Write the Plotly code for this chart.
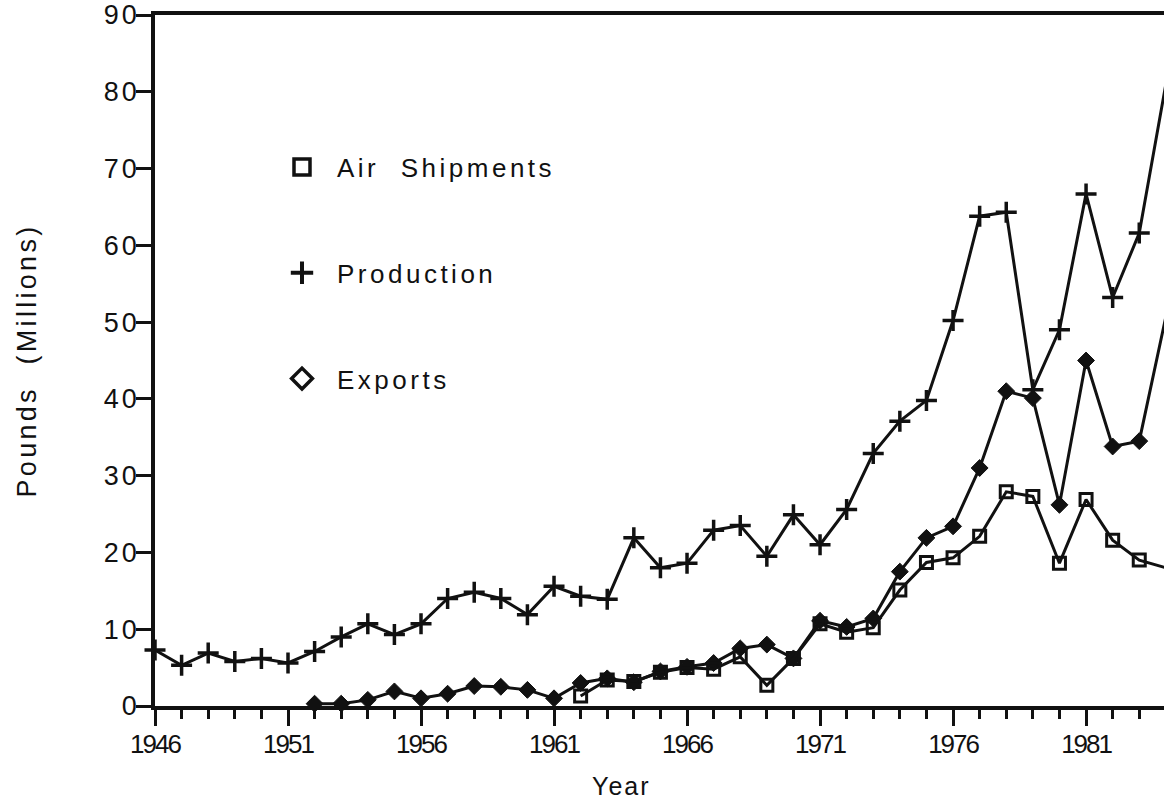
import plotly.graph_objects as go

years = list(range(1946, 1985))

production = [7.3, 5.3, 6.9, 5.8, 6.2, 5.6, 7.1, 9.0, 10.7, 9.3,
              10.7, 14.0, 14.8, 14.0, 11.9, 15.6, 14.3, 13.9, 21.9, 18.0,
              18.6, 22.9, 23.5, 19.5, 24.9, 21.0, 25.6, 32.9, 37.1, 39.8,
              50.2, 63.8, 64.3, 41.2, 49.0, 66.7, 53.2, 61.6, 81.0]

exports = [None, None, None, None, None, None, 0.3, 0.3, 0.8, 1.9,
           1.0, 1.6, 2.6, 2.5, 2.1, 1.0, 3.0, 3.6, 3.1, 4.5,
           5.1, 5.6, 7.5, 8.0, 6.2, 11.1, 10.3, 11.4, 17.5, 21.9,
           23.4, 31.0, 41.0, 40.1, 26.2, 45.0, 33.8, 34.5, 50.7]

air_shipments = [None] * 16 + [1.3, 3.4, 3.2, 4.4,
                 5.0, 4.8, 6.4, 2.7, 6.2, 10.7, 9.6, 10.2, 15.1, 18.7,
                 19.3, 22.1, 27.9, 27.3, 18.6, 26.9, 21.6, 19.0, 18.0]

x_tick_vals = [1946, 1951, 1956, 1961, 1966, 1971, 1976, 1981]
x_tick_text = [str(v) for v in x_tick_vals]
y_tick_vals = list(range(0, 100, 10))
y_tick_text = [str(v) for v in y_tick_vals]

series_names = ["Air\u00a0\u00a0Shipments", "Production", "Exports"]

BLACK = "#111111"
SANS = "Liberation Sans, Arial, Helvetica, sans-serif"

W, H = 1164, 799
PLOT_L, PLOT_T, PLOT_B = 155, 15, 706   # plot-area edges in pixels

fig = go.Figure()

fig.add_trace(go.Scatter(
    x=years, y=production, mode="lines+markers", showlegend=False,
    line=dict(color=BLACK, width=3), cliponaxis=False,
    marker=dict(symbol="cross-thin", size=15, color=BLACK,
                line=dict(color=BLACK, width=3.5)),
))
fig.add_trace(go.Scatter(
    x=years, y=exports, mode="lines+markers", showlegend=False,
    line=dict(color=BLACK, width=3), cliponaxis=False,
    marker=dict(symbol="diamond", size=13, color=BLACK,
                line=dict(color=BLACK, width=1)),
))
fig.add_trace(go.Scatter(
    x=years, y=air_shipments, mode="lines+markers", showlegend=False,
    line=dict(color=BLACK, width=3), cliponaxis=False,
    marker=dict(symbol="square-open", size=12, color=BLACK,
                line=dict(color=BLACK, width=3)),
))

legend_syms = [
    ("square-open", 16, 3.5),
    ("cross-thin", 16, 4),
    ("diamond-open", 16, 3.5),
]
for name, (sym, sz, lw) in zip(series_names, legend_syms):
    fig.add_trace(go.Scatter(
        x=[None], y=[None], mode="markers", name=name, legendgroup=name,
        marker=dict(symbol=sym, size=sz, color=BLACK,
                    line=dict(color=BLACK, width=lw)),
    ))

plot_h = PLOT_B - PLOT_T
fig.update_layout(
    width=W, height=H,
    margin=dict(l=PLOT_L, r=0, t=PLOT_T, b=H - PLOT_B),
    paper_bgcolor="white", plot_bgcolor="white",
    font=dict(family=SANS, color=BLACK),
    legend=dict(
        x=0.111, y=0.814, xanchor="left", yanchor="top",
        font=dict(family=SANS, size=26, color=BLACK),
        bgcolor="rgba(0,0,0,0)", borderwidth=0,
        traceorder="grouped", tracegroupgap=69, itemwidth=60,
    ),
    xaxis=dict(
        range=[1946, 1983.93], tickmode="array",
        tickvals=x_tick_vals, ticktext=x_tick_text,
        ticks="outside", ticklen=16, tickwidth=3, tickcolor=BLACK,
        showline=True, linewidth=3.5, linecolor=BLACK, mirror=True,
        showgrid=False, zeroline=False, automargin=False,
        tickfont=dict(family=SANS, size=26, color=BLACK),
        ticklabelstandoff=-4, ticklabeloverflow="allow",
        minor=dict(dtick=1, tick0=1946, ticks="outside", ticklen=9,
                   tickwidth=3, tickcolor=BLACK, showgrid=False),
    ),
    yaxis=dict(
        range=[0, 90], tickmode="array",
        tickvals=y_tick_vals, ticktext=y_tick_text,
        ticks="outside", ticklen=15, tickwidth=3, tickcolor=BLACK,
        showline=True, linewidth=3.5, linecolor=BLACK,
        showgrid=False, zeroline=False, automargin=False,
        tickfont=dict(family=SANS, size=27, color=BLACK),
        ticklabelstandoff=-9, ticklabeloverflow="allow",
        title=dict(text="Pounds\u00a0\u00a0(Millions)",
                   font=dict(family=SANS, size=27, color=BLACK),
                   standoff=66),
    ),
    annotations=[dict(
        text="Year", xref="paper", yref="paper",
        x=(621 - PLOT_L) / (W - PLOT_L), y=-(786 - PLOT_B) / plot_h,
        xanchor="center", yanchor="middle", showarrow=False,
        font=dict(family=SANS, size=25, color=BLACK),
    )],
)

# full-window page, and the typewriter-like letter spacing of the original
post = """
document.body.style.margin = '0';
var gd = document.getElementById('{plot_id}');
function ls(sel, v) {
  gd.querySelectorAll(sel).forEach(function (t) { t.style.letterSpacing = v; });
}
ls('.legendtext', '3.5px');
ls('.ytick text', '3px');
ls('.xtick text', '-2px');
ls('.ytitle', '3.3px');
ls('.annotation-text', '2px');
gd.querySelectorAll('.legend .scrollbox').forEach(function (e) {
  e.removeAttribute('clip-path');
});
gd.querySelectorAll('.legend').forEach(function (e) {
  e.removeAttribute('clip-path');
  e.style.overflow = 'visible';
});
"""

fig.write_html("out.html", post_script=post,
               config={"displayModeBar": False})
